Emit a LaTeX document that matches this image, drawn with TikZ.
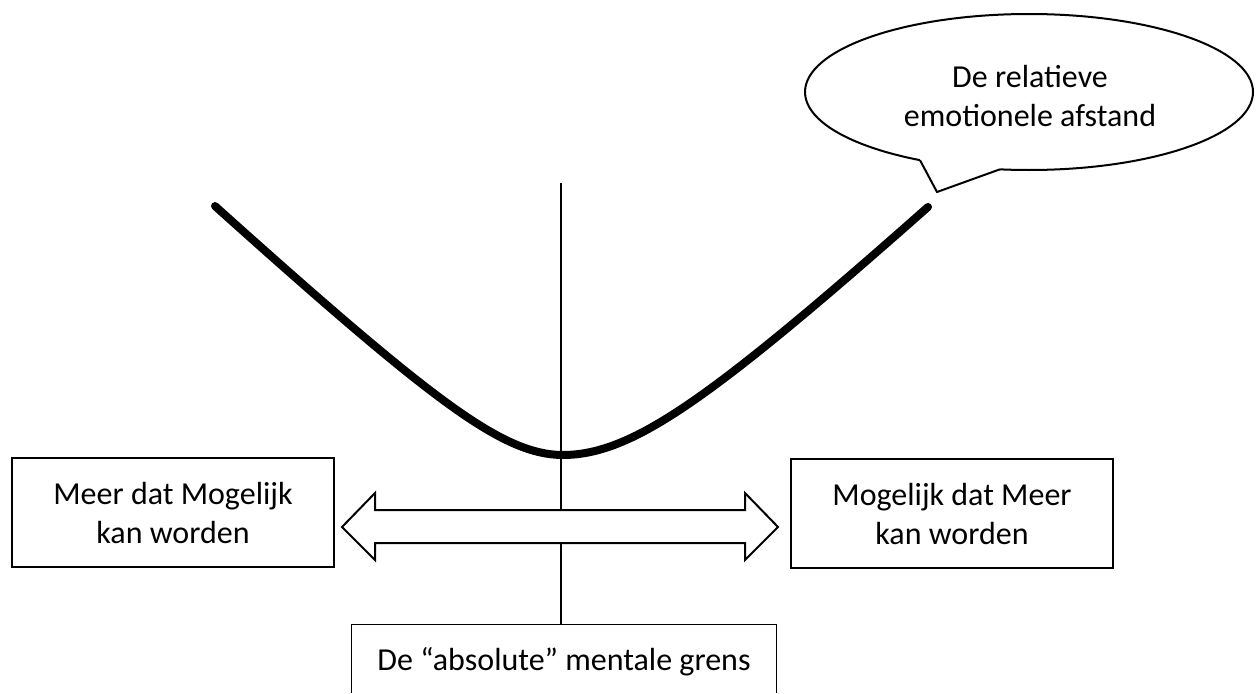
\documentclass[tikz,border=0pt]{standalone}
\usepackage{fontspec}
\setmainfont{Carlito}
\begin{document}
\begin{tikzpicture}[x=1pt,y=-1pt,
  txt/.style={font=\fontsize{32}{39}\selectfont, align=center, inner sep=0pt},
  boxnode/.style={txt, draw, line width=1.3pt},
  thinline/.style={line width=1.5pt},
  outline/.style={line width=2pt, line join=miter},
  curve/.style={line width=8pt, line cap=round, line join=round}]
\useasboundingbox (0,0) rectangle (1257,693);
\coordinate (bottom) at (0,693);
% vertical axis
\coordinate (vtop) at (561,183);
\node[txt, minimum width=424pt, minimum height=74pt] (bbox) at (564,662) {De “absolute” mentale grens};
\draw[line width=1.3pt] (bbox.north west |- bottom) -- (bbox.north west) -- (bbox.north east) -- (bbox.north east |- bottom);
\draw[thinline] (vtop) -- (vtop |- bbox.north);
% side boxes
\node[boxnode, minimum width=322pt, minimum height=109pt] (lbox) at (173,512.5) {Meer dat Mogelijk\\kan worden};
\node[boxnode, minimum width=322pt, minimum height=109pt] (rbox) at (952,513.5) {Mogelijk dat Meer\\kan worden};
% double arrow
\draw[outline, fill=white] (342,527) -- (375,493) -- (375,510) -- (745,510) -- (745,493) -- (778,527)
  -- (745,560) -- (745,543) -- (375,543) -- (375,560) -- cycle;
% curve
\draw[curve] plot[domain=-348:0, samples=60] ({563+\x}, {455-9.3*(sqrt(9.23*9.23+(\x/10)*(\x/10))-9.23)})
  -- plot[domain=0:365, samples=60] ({563+\x}, {455-9.3*(sqrt(11.64*11.64+(\x/10)*(\x/10))-11.64)});
% callout
\draw[outline, fill=white] (1029,92) ellipse [x radius=224, y radius=78];
\fill[white] (920,160.2) -- (937,192) -- (1000,169.3) -- (1000,163) -- (920,155) -- cycle;
\draw[outline] (920,160.2) -- (937,192) -- (1000,169.3);
\node[txt] (callout) at (1030,96) {De relatieve\\emotionele afstand};
\end{tikzpicture}
\end{document}
